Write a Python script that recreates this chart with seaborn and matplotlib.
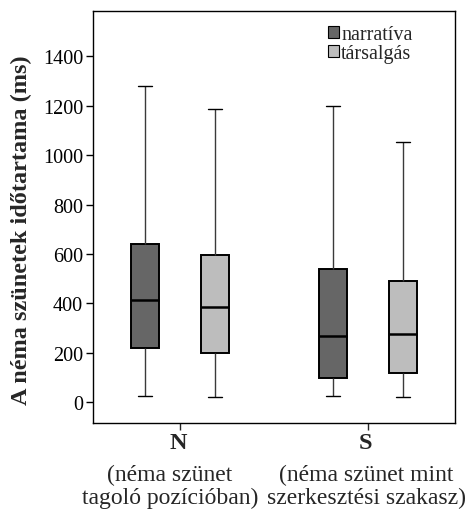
import numpy as np
import pandas as pd
import matplotlib.pyplot as plt
import seaborn as sns

# ---------------------------------------------
# Data: five-number summaries
# (low whisker, Q1, median, Q3, high whisker)
# ---------------------------------------------
groups = ["N", "S"]
group_notes = ["(néma szünet\ntagoló pozícióban)", "(néma szünet mint\nszerkesztési szakasz)"]
hues = ["narratíva", "társalgás"]
narrativa_stats = [[25, 217, 414, 640, 1280], [25, 98, 268, 539, 1200]]
tarsalgas_stats = [[19, 197, 384, 596, 1189], [20, 117, 275, 492, 1052]]
y_ticks = [0, 200, 400, 600, 800, 1000, 1200, 1400]

# Five points per box -> quartiles land exactly on the summary values
rows = []
for hue, stats in zip(hues, [narrativa_stats, tarsalgas_stats]):
    for grp, vals in zip(groups, stats):
        for v in vals:
            rows.append({"group": grp, "type": hue, "ms": v})
df = pd.DataFrame(rows)

sns.set_style("ticks")
plt.rcParams["font.family"] = ["Liberation Serif", "DejaVu Serif"]

fig = plt.figure(figsize=(4.69, 5.10), dpi=100)
ax = fig.add_axes([0.198, 0.169, 0.772, 0.807])

sns.boxplot(data=df, x="group", y="ms", hue="type", order=groups, hue_order=hues,
            palette=["#666666", "#bdbdbd"], whis=(0, 100), width=0.745, gap=0.6,
            linewidth=1.4, linecolor="black", ax=ax,
            whiskerprops=dict(color="#3a3a3a", linewidth=1.0),
            capprops=dict(color="black", linewidth=1.0),
            medianprops=dict(color="black", linewidth=1.8))

ax.set_xlim(-0.465, 1.465)
ax.set_ylim(-84, 1583)
ax.set_yticks(y_ticks)
ax.tick_params(axis="y", labelsize=14.5, length=5, width=1, colors="black", pad=2)
ax.tick_params(axis="x", length=5, width=1, labelbottom=False)
for s in ax.spines.values():
    s.set_visible(True)
    s.set_color("black")
    s.set_linewidth(1.0)

ax.set_xlabel("")
ax.set_ylabel("A néma szünetek időtartama (ms)", fontsize=17.5, fontweight="bold")
ax.yaxis.set_label_coords(-0.168, 0.471)

# Category labels: bold letter plus note underneath
trans = ax.get_xaxis_transform()
note_shift = [-0.055, -0.008]
for i, (g, note) in enumerate(zip(groups, group_notes)):
    ax.text(i - 0.01, -0.022, g, transform=trans, ha="center", va="top",
            fontsize=17.5, fontweight="bold")
    ax.text(i + note_shift[i], -0.1, note, transform=trans, ha="center", va="top",
            fontsize=17, linespacing=1.1)

sns.move_legend(ax, "upper right", bbox_to_anchor=(0.916, 0.995), frameon=False,
                title=None, fontsize=14.5, handlelength=0.55, handleheight=0.55,
                handletextpad=0.1, labelspacing=0.0, borderaxespad=0.2)
for p in ax.get_legend().get_patches():
    p.set_linewidth(0.8)

plt.savefig("out.png", dpi=100)
